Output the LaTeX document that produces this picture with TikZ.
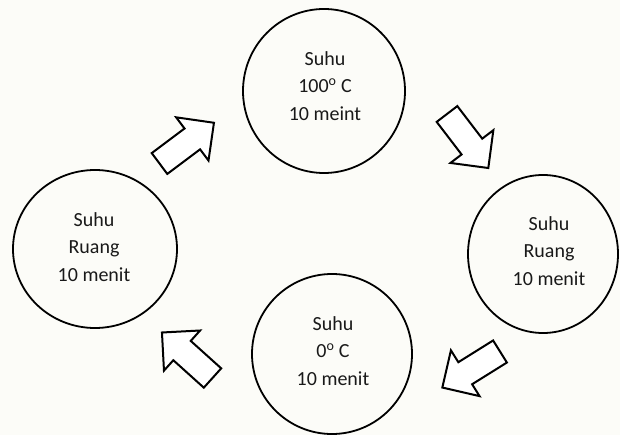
\documentclass[tikz,border=0pt]{standalone}
\usepackage{fontspec}
\setmainfont{Carlito}
\usetikzlibrary{shapes.geometric}
\definecolor{bgcol}{RGB}{252,252,248}
\begin{document}
\begin{tikzpicture}[x=1pt,y=-1pt,
  circ/.style={draw=black, line width=1.8pt, ellipse, inner sep=0pt},
  txt/.style={align=center, font=\fontsize{20}{27.5}\selectfont, text=black!90},
  arrowline/.style={draw=black, line width=2pt, line join=miter, fill=white},
  blockarrow/.pic={\path[arrowline] (0,-13) -- (41,-13) -- (41,-27) -- (68,0) -- (41,27) -- (41,13) -- (0,13) -- cycle;}
]
\fill[bgcol] (0,0) rectangle (620,435);
\useasboundingbox (0,0) rectangle (620,435);
% circles
\node[circ, minimum width=162pt, minimum height=164pt] (ctop) at (324,91) {};
\node[circ, minimum width=150pt, minimum height=158pt] (cright) at (543,254) {};
\node[circ, minimum width=160pt, minimum height=160pt] (cbottom) at (332,354) {};
\node[circ, minimum width=164pt, minimum height=158pt] (cleft) at (95,249) {};
% texts
\node[txt] (ttop) at (325,86) {Suhu\\100\textsuperscript{o} C\\10 meint};
\node[txt] (tright) at (549,251) {Suhu\\Ruang\\10 menit};
\node[txt] (tbottom) at (333,351) {Suhu\\0\textsuperscript{o} C\\10 menit};
\node[txt] (tleft) at (94,247) {Suhu\\Ruang\\10 menit};
% block arrows
\pic[rotate=36.8] at (159.5,163.5) {blockarrow};
\pic[rotate=-52.6] at (447,114) {blockarrow};
\pic[rotate=212] at (500,351.5) {blockarrow};
\pic[rotate=138] at (212.5,378) {blockarrow};
\end{tikzpicture}
\end{document}
